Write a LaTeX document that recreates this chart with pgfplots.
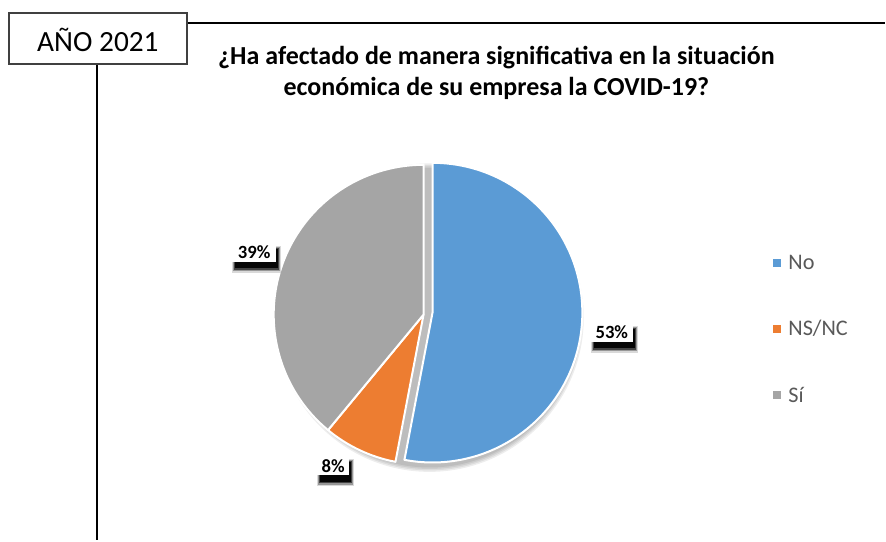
\documentclass[border=0pt]{standalone}
\usepackage{pgfplots}
\pgfplotsset{compat=1.18}
\usepackage{pgfplotstable}
\usepackage{fontspec}
\setmainfont{Carlito}
\definecolor{cNo}{HTML}{5B9BD5}
\definecolor{cNS}{HTML}{ED7D31}
\definecolor{cSi}{HTML}{A5A5A5}
\definecolor{legtext}{HTML}{595959}
\definecolor{boxline}{HTML}{404040}
\pgfplotstableread{
label value
No 53
NSNC 8
Si 39
}\piedata
\newcommand{\datalabel}[4]{%
  \fill[black,opacity=0.15] (axis cs:#1-#3/2,#2-9.5+3) rectangle (axis cs:#1+#3/2+5,#2+9.5+11);
  \fill[black,opacity=0.3] (axis cs:#1-#3/2+1,#2-9.5+4) rectangle (axis cs:#1+#3/2+4,#2+9.5+9.5);
  \fill[black,opacity=0.55] (axis cs:#1-#3/2+2,#2-9.5+5) rectangle (axis cs:#1+#3/2+3,#2+9.5+8);
  \fill[black,opacity=0.9] (axis cs:#1-#3/2+3,#2-9.5+6) rectangle (axis cs:#1+#3/2+2,#2+9.5+6.5);
  \node[fill=white,inner sep=0pt,minimum width=#3*0.75pt,minimum height=14.25pt,
    font=\bfseries\fontsize{14}{16}\selectfont] at (axis cs:#1,#2) {#4};
}
\newcommand{\legitem}[3]{%
  \fill[#2] (axis cs:774,#1-4) rectangle (axis cs:782,#1+4);
  \node[anchor=west,text=legtext,font=\fontsize{16.7}{19}\selectfont,inner sep=0pt] at (axis cs:789,#1) {#3};
}
\begin{document}
\begin{tikzpicture}
\pgfplotstablegetelem{0}{value}\of\piedata \pgfmathsetmacro\vA{\pgfplotsretval}
\pgfplotstablegetelem{1}{value}\of\piedata \pgfmathsetmacro\vB{\pgfplotsretval}
\pgfplotstablegetelem{2}{value}\of\piedata \pgfmathsetmacro\vC{\pgfplotsretval}
\pgfmathsetmacro\aA{90-3.6*\vA}
\pgfmathsetmacro\aB{\aA-3.6*\vB}
\pgfmathsetmacro\aC{\aB-3.6*\vC}
\begin{axis}[x=0.75pt,y=0.75pt,xmin=0,xmax=886,ymin=0,ymax=541,y dir=reverse,
  hide axis,clip=false]
\fill[white] (axis cs:0,0) rectangle (axis cs:886,541);
% frame
\draw[black,line width=1.5pt] (axis cs:187,23) -- (axis cs:886,23);
\draw[black,line width=1.5pt] (axis cs:97,64) -- (axis cs:97,541);
\draw[boxline,line width=1.1pt,fill=white] (axis cs:9,13) rectangle (axis cs:187,64);
\node[font=\fontsize{22}{26}\selectfont] at (axis cs:98,40) {AÑO 2021};
% title
\node[font=\bfseries\fontsize{19.5}{24}\selectfont,align=center] at (axis cs:497,73)
  {¿Ha afectado de manera significativa en la situación\\económica de su empresa la COVID-19?};
% pie shadow
\fill[black,opacity=0.07] (axis cs:430,318) circle[radius=112.5pt];
\fill[black,opacity=0.07] (axis cs:430,318) circle[radius=113.6pt];
\fill[black,opacity=0.07] (axis cs:430,318) circle[radius=114.7pt];
\fill[black,opacity=0.07] (axis cs:430,318) circle[radius=115.8pt];
% slices
\filldraw[fill=cNo,draw=white,line width=1.5pt,line join=round]
  (axis cs:433,313) -- ++(90:112.5pt) arc[start angle=90,end angle=\aA,radius=112.5pt] -- cycle;
\filldraw[fill=cNS,draw=white,line width=1.5pt,line join=round]
  (axis cs:424,315) -- ++(\aA:112.5pt) arc[start angle=\aA,end angle=\aB,radius=112.5pt] -- cycle;
\filldraw[fill=cSi,draw=white,line width=1.5pt,line join=round]
  (axis cs:424,315) -- ++(\aB:112.5pt) arc[start angle=\aB,end angle=\aC,radius=112.5pt] -- cycle;
% data labels
\datalabel{254.5}{252.5}{44}{39\%}
\datalabel{612.5}{332.5}{42}{53\%}
\datalabel{333.5}{466.5}{32}{8\%}
% legend
\legitem{263}{cNo}{No}
\legitem{329}{cNS}{NS/NC}
\legitem{395}{cSi}{Sí}
\end{axis}
\end{tikzpicture}
\end{document}
